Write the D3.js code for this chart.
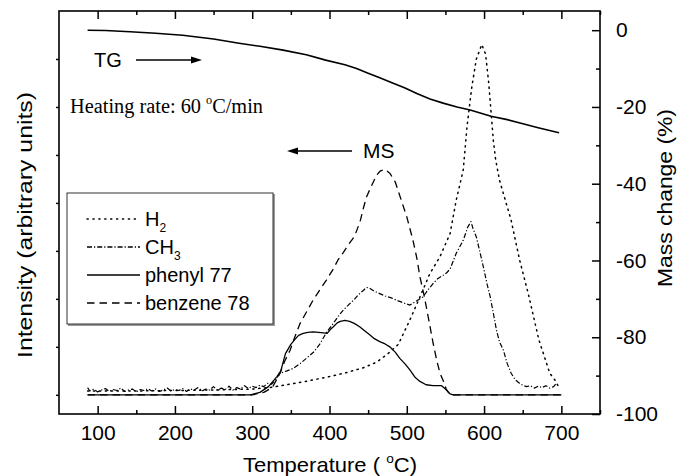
<!DOCTYPE html>
<html><head><meta charset="utf-8">
<script src="https://cdn.jsdelivr.net/npm/d3@7"></script>
<style>
html,body{margin:0;padding:0;background:#fff;}
</style></head>
<body>
<svg id="chart" width="685" height="476"></svg>
<script>
// ---------- data ----------
const xTicksMajor = [100,200,300,400,500,600,700];
const xTicksMinor = [150,250,350,450,550,650,750];
const rightTicksMajor = [0,-20,-40,-60,-80,-100];
const rightTicksMinor = [-10,-30,-50,-70,-90];
const leftTicks = [0,1,2,3,4,5,6,7];

// TG mass change (%) vs temperature
const tgData = [[87,0],[110,-0.1],[142,-0.4],[175,-0.8],[210,-1.3],[250,-2.3],[283,-3.4],[310,-4.2],[340,-5.2],[370,-6.4],[395,-7.8],[420,-9.0],[435,-10],[450,-11.2],[465,-12.4],[480,-13.6],[497,-15.0],[513,-16.5],[530,-17.9],[547,-19.0],[565,-20.0],[582,-20.8],[609,-22.4],[630,-23.3],[649,-24.3],[670,-25.4],[697,-26.7]];

// MS intensities (arbitrary units)
const h2Data = [[87,0.08],[150,0.08],[200,0.09],[250,0.1],[300,0.12],[327,0.16],[366,0.27],[400,0.38],[421,0.46],[445,0.57],[461,0.68],[475,0.85],[489,1.05],[504,1.56],[517,2.04],[530,2.53],[543,2.88],[556,3.36],[564,4.06],[573,4.68],[578,5.6],[584,6.4],[590,7.0],[597,7.3],[602,7.1],[606,6.5],[609,5.9],[612,5.3],[615,4.9],[620,4.47],[635,3.64],[646,2.81],[657,2.12],[663,1.70],[671,1.14],[678,0.8],[685,0.45],[692,0.3],[697,0.15]];

const ch3Data = [[87,0.15],[90,0.08],[95,0.12],[100,0.06],[105,0.1],[110,0.13],[115,0.07],[120,0.11],[125,0.09],[130,0.14],[135,0.07],[140,0.1],[145,0.12],[150,0.06],[155,0.11],[160,0.09],[165,0.13],[170,0.08],[175,0.12],[180,0.07],[185,0.1],[190,0.14],[195,0.08],[200,0.11],[205,0.09],[210,0.13],[215,0.07],[220,0.12],[225,0.1],[230,0.15],[235,0.08],[240,0.12],[245,0.1],[250,0.17],[255,0.09],[260,0.14],[265,0.11],[270,0.18],[275,0.1],[280,0.15],[285,0.12],[290,0.19],[295,0.13],[300,0.18],[305,0.15],[310,0.2],[315,0.17],[320,0.24],[325,0.22],[330,0.3],[336,0.45],[345,0.5],[353,0.55],[362,0.65],[370,0.76],[380,0.9],[388,1.07],[396,1.3],[405,1.49],[412,1.65],[418,1.77],[425,1.88],[431,1.97],[437,2.08],[444,2.18],[448,2.24],[452,2.22],[458,2.16],[465,2.11],[472,2.06],[480,2.02],[487,1.97],[495,1.92],[504,1.87],[512,1.95],[521,2.04],[528,2.2],[534,2.32],[540,2.42],[547,2.49],[552,2.55],[556,2.62],[564,2.95],[573,3.22],[579,3.5],[583,3.61],[586,3.45],[590,3.29],[595,2.95],[599,2.67],[604,2.3],[608,2.04],[612,1.7],[616,1.35],[620,1.1],[625,0.93],[630,0.65],[635,0.45],[640,0.32],[645,0.25],[650,0.2],[655,0.17],[660,0.19],[665,0.14],[670,0.18],[675,0.15],[680,0.19],[685,0.14],[690,0.17],[694,0.25]];

const phenylData = [[87,0],[200,0],[298,0],[310,0.05],[321,0.17],[332,0.38],[337,0.5],[343,0.86],[350,1.05],[355,1.15],[360,1.24],[366,1.28],[372,1.30],[379,1.31],[386,1.3],[392,1.29],[397,1.28],[401,1.36],[405,1.42],[410,1.5],[414,1.53],[420,1.55],[426,1.53],[432,1.49],[439,1.42],[445,1.34],[452,1.25],[458,1.17],[465,1.11],[472,1.06],[478,1.0],[485,0.89],[491,0.76],[498,0.64],[504,0.52],[511,0.36],[517,0.28],[525,0.21],[534,0.19],[545,0.19],[550,0.12],[556,0.02],[560,0],[700,0]];

const benzeneData = [[87,0],[200,0],[300,0],[315,0.05],[326,0.15],[336,0.45],[342,0.7],[349,0.93],[355,1.2],[362,1.49],[370,1.72],[379,1.98],[388,2.2],[396,2.39],[404,2.6],[411,2.81],[418,2.97],[424,3.12],[430,3.25],[433,3.33],[437,3.5],[440,3.64],[444,3.9],[448,4.13],[455,4.38],[461,4.58],[466,4.67],[472,4.70],[478,4.62],[485,4.44],[492,4.1],[500,3.71],[508,3.22],[513,2.85],[517,2.46],[522,2.1],[526,1.77],[530,1.43],[534,1.08],[539,0.7],[543,0.45],[547,0.3],[551,0.12],[556,0],[700,0]];

const legendLabels = [["H","2"],["CH","3"],["phenyl 77",""],["benzene 78",""]];

// ---------- layout ----------
const SANS = "'Liberation Sans', Arial, sans-serif";
const SERIF = "'Liberation Serif', 'Times New Roman', serif";
const L = 59, R = 600, T = 11, B = 414;
const svg = d3.select("#chart").style("font-family", SANS);

const x = d3.scaleLinear().domain([50,750]).range([L,R]);
const yR = d3.scaleLinear().domain([-100,5]).range([B,T]);
const yL = d3.scaleLinear().domain([-0.4,8]).range([B,T]);

const styles = {
  h2:      {dash:"1.3,4.6", cap:"round"},
  ch3:     {dash:"5,2,1.2,2", cap:"butt"},
  phenyl:  {dash:null, cap:"butt"},
  benzene: {dash:"7.5,5", cap:"butt"}
};

const plotG = svg.append("g");
function drawLine(data, yScale, st, w){
  const line = d3.line().x(d=>x(d[0])).y(d=>yScale(d[1]));
  plotG.append("path").datum(data).attr("d", line)
    .attr("fill","none").attr("stroke","#000").attr("stroke-width", w)
    .attr("stroke-linejoin","round")
    .attr("stroke-linecap", st.cap)
    .attr("stroke-dasharray", st.dash);
}
drawLine(phenylData, yL, styles.phenyl, 1.3);
drawLine(benzeneData, yL, styles.benzene, 1.3);
drawLine(ch3Data, yL, styles.ch3, 1.2);
drawLine(h2Data, yL, styles.h2, 1.5);
drawLine(tgData, yR, styles.phenyl, 1.6);

// ---------- axes ----------
const fs = 21;
const fmt = d => String(d);
svg.append("g").attr("transform",`translate(0,${B})`)
  .call(d3.axisBottom(x).tickValues(xTicksMajor).tickSizeInner(-8).tickSizeOuter(0).tickPadding(11).tickFormat(fmt));
svg.append("g").attr("transform",`translate(0,${B})`)
  .call(d3.axisBottom(x).tickValues(xTicksMinor).tickSizeInner(-4).tickSizeOuter(0).tickFormat(""));
svg.append("g").attr("transform",`translate(0,${T})`)
  .call(d3.axisTop(x).tickValues(xTicksMajor).tickSizeInner(-8).tickSizeOuter(0).tickFormat(""));
svg.append("g").attr("transform",`translate(0,${T})`)
  .call(d3.axisTop(x).tickValues(xTicksMinor).tickSizeInner(-4).tickSizeOuter(0).tickFormat(""));
svg.append("g").attr("transform",`translate(${R},0)`)
  .call(d3.axisRight(yR).tickValues(rightTicksMajor).tickSizeInner(-8).tickSizeOuter(0).tickPadding(16).tickFormat(fmt));
svg.append("g").attr("transform",`translate(${R},0)`)
  .call(d3.axisRight(yR).tickValues(rightTicksMinor).tickSizeInner(-4).tickSizeOuter(0).tickFormat(""));
svg.append("g").attr("transform",`translate(${L},0)`)
  .call(d3.axisLeft(yL).tickValues(leftTicks).tickSizeInner(3).tickSizeOuter(0).tickFormat(""));

svg.selectAll(".domain").remove();
svg.selectAll(".tick line").attr("stroke","#000").attr("stroke-width",1.5);
svg.selectAll(".tick text").attr("font-size",fs).attr("font-family",SANS).attr("fill","#000");

// frame
svg.append("rect").attr("x",L).attr("y",T).attr("width",R-L).attr("height",B-T)
  .attr("fill","none").attr("stroke","#000").attr("stroke-width",1.6);

// ---------- titles ----------
const xt = svg.append("text").attr("x",330).attr("y",472).attr("text-anchor","middle")
  .attr("font-size",21).attr("textLength",174).attr("lengthAdjust","spacingAndGlyphs");
xt.append("tspan").text("Temperature ( ");
xt.append("tspan").attr("font-size",13).attr("dy",-9).text("o");
xt.append("tspan").attr("dy",9).text("C)");

svg.append("text").attr("transform","translate(32,225) rotate(-90)").attr("text-anchor","middle")
  .attr("font-size",21).attr("textLength",266).attr("lengthAdjust","spacingAndGlyphs")
  .text("Intensity (arbitrary units)");
svg.append("text").attr("transform","translate(672,198) rotate(-90)").attr("text-anchor","middle")
  .attr("font-size",21).attr("textLength",178).attr("lengthAdjust","spacingAndGlyphs")
  .text("Mass change (%)");

// ---------- annotations ----------
function arrow(x1,x2,y){
  const dir = Math.sign(x2-x1);
  svg.append("line").attr("x1",x1).attr("x2",x2-dir*8).attr("y1",y).attr("y2",y).attr("stroke","#000").attr("stroke-width",1.3);
  svg.append("path").attr("d",`M${x2},${y} L${x2-dir*11},${y-3.5} L${x2-dir*11},${y+3.5} Z`).attr("fill","#000");
}
svg.append("text").attr("x",94).attr("y",67).attr("font-size",20).text("TG");
arrow(136,202,60);
svg.append("text").attr("x",363).attr("y",158).attr("font-size",21).text("MS");
arrow(352,287,151);

const hr = svg.append("text").attr("x",70).attr("y",113).attr("font-size",20)
  .attr("font-family",SERIF).attr("textLength",193).attr("lengthAdjust","spacingAndGlyphs");
hr.append("tspan").text("Heating rate: 60 ");
hr.append("tspan").attr("font-size",12).attr("dy",-9).text("o");
hr.append("tspan").attr("dy",9).text("C/min");

// ---------- legend ----------
svg.append("rect").attr("x",68).attr("y",194).attr("width",207).attr("height",132)
  .attr("fill","#999").attr("stroke","none");
svg.append("rect").attr("x",67).attr("y",193).attr("width",206).attr("height",131)
  .attr("fill","#fff").attr("stroke","#333").attr("stroke-width",1);
const legStyles = [styles.h2, styles.ch3, styles.phenyl, styles.benzene];
legendLabels.forEach((lab,i)=>{
  const yy = 219 + i*28;
  svg.append("line").attr("x1",87).attr("x2",140).attr("y1",yy).attr("y2",yy)
    .attr("stroke","#000").attr("stroke-width",1.3)
    .attr("stroke-dasharray",legStyles[i].dash).attr("stroke-linecap",legStyles[i].cap);
  const t = svg.append("text").attr("x",145).attr("y",yy+7).attr("font-size",20);
  t.append("tspan").text(lab[0]);
  if(lab[1]) t.append("tspan").attr("font-size",12).attr("dy",6).text(lab[1]);
});
</script>
</body></html>
